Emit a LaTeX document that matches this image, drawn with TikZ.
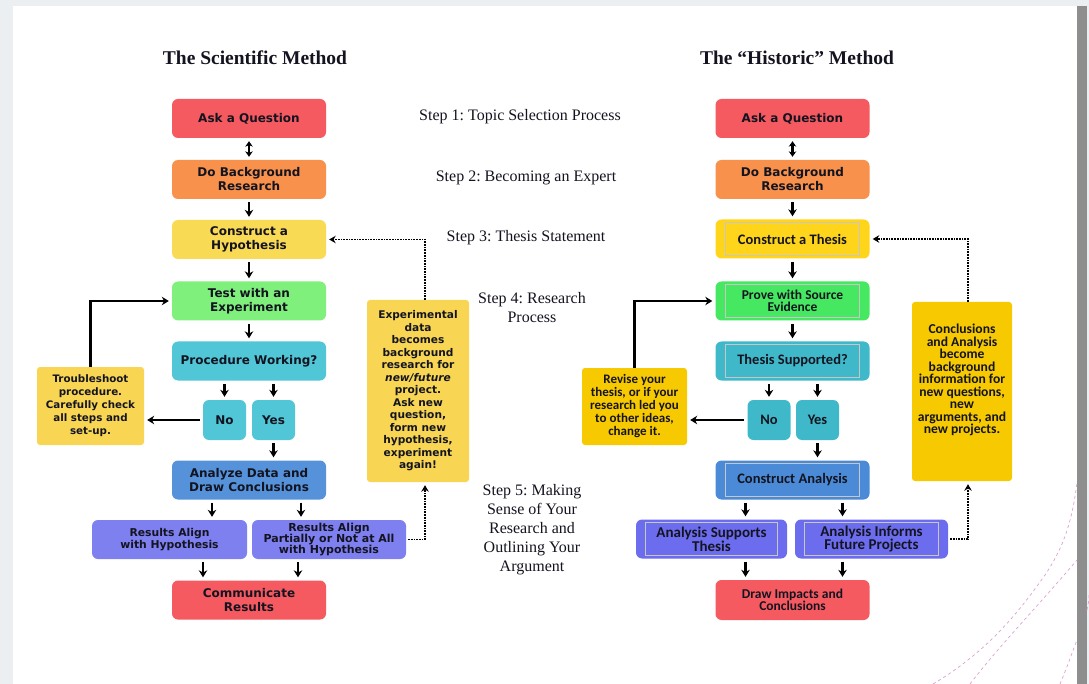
\documentclass[tikz,border=0pt]{standalone}
\usepackage{fontspec}
\setmainfont{Liberation Serif}
\newfontfamily\boxfont{DejaVu Sans}
\newfontfamily\calfont{Carlito}
\usetikzlibrary{arrows.meta,calc}
\frenchspacing
\definecolor{frame}{HTML}{ECEFF1}
\definecolor{bar}{HTML}{8E8E8E}
\definecolor{cred}{HTML}{F55A60}
\definecolor{corange}{HTML}{F7914B}
\definecolor{cyel}{HTML}{F9DA55}
\definecolor{cgreen}{HTML}{80F07D}
\definecolor{ccyan}{HTML}{50C6D6}
\definecolor{cblue}{HTML}{5592DA}
\definecolor{cpurple}{HTML}{7E80F0}
\definecolor{cnote}{HTML}{F8D653}
\definecolor{rgold}{HTML}{FFD51C}
\definecolor{rgreen}{HTML}{45E860}
\definecolor{rteal}{HTML}{3FB9C9}
\definecolor{rblue}{HTML}{4A8AD6}
\definecolor{rpurple}{HTML}{6C6CEE}
\definecolor{rnote}{HTML}{F7C900}
\definecolor{pinkd}{HTML}{E0A0D0}
\definecolor{txt}{HTML}{141420}
\tikzset{
  box/.style={rounded corners=6pt, minimum width=154pt, minimum height=39pt, align=center, inner sep=1pt,
    font=\boxfont\bfseries\fontsize{12}{14}\selectfont, text=txt},
  rbox/.style={box, font=\calfont\bfseries\fontsize{14.5}{14}\selectfont},
  ynbox/.style={box, minimum width=43pt, minimum height=40pt},
  note/.style={rounded corners=3pt, align=center, inner sep=1pt, text=txt, font=\boxfont\bfseries\fontsize{10.3}{13}\selectfont},
  rnotes/.style={rounded corners=3pt, align=center, inner sep=1pt, text=txt, font=\calfont\bfseries\fontsize{13.6}{12.5}\selectfont},
  arr/.style={line width=2.2pt, -{Stealth[length=7pt,width=8.5pt]}, shorten >=3pt, shorten <=3pt},
  darr/.style={line width=2.2pt, {Stealth[length=5.5pt,width=7.5pt]}-{Stealth[length=5.5pt,width=7.5pt]}, shorten >=3pt, shorten <=3pt},
  dots/.style={line width=1.7pt, densely dotted, -{Stealth[length=6.5pt,width=7.5pt]}, shorten >=3pt},
  steptext/.style={align=center, text=txt, font=\fontsize{16}{19}\selectfont},
  titletext/.style={text=txt, font=\bfseries\fontsize{19.5}{22}\selectfont},
  bevel/.style={draw=black!22, line width=0.8pt}
}
\begin{document}
\begin{tikzpicture}[x=1pt,y=-1pt]
\useasboundingbox (0,0) rectangle (1089,684);
% page frame
\fill[frame] (0,0) rectangle (1089,684);
\fill[white] (13,6) rectangle (1077,684);
\fill[bar] (1077,6) rectangle (1087,684);
% decorative dashed curves
\draw[pinkd, dashed, line width=0.7pt] (933,684) .. controls (990,650) and (1020,610) .. (1045,575) .. controls (1065,545) and (1072,520) .. (1077,483);
\draw[pinkd, dashed, line width=0.7pt] (970,684) .. controls (1000,645) and (1030,615) .. (1077,560);
\draw[pinkd, dashed, line width=0.7pt] (1060,684) .. controls (1068,665) and (1073,650) .. (1077,640);
\draw[pinkd, dashed, line width=0.7pt] (1087,610) .. controls (1089,600) .. (1089,595);

% titles
\node[titletext] (t1) at (255,58) {The Scientific Method};
\node[titletext] (t2) at (797,58) {The \char"201CHistoric\char"201D{} Method};

% step labels
\node[steptext] (s1) at (520,117) {Step 1: Topic Selection Process};
\node[steptext] (s2) at (526,178) {Step 2: Becoming an Expert};
\node[steptext] (s3) at (526,238) {Step 3: Thesis Statement};
\node[steptext] (s4) at (532,308) {Step 4: Research\\Process};
\node[steptext] (s5) at (532,530) {Step 5: Making\\Sense of Your\\Research and\\Outlining Your\\Argument};

% ---------- left column ----------
\node[box, fill=cred] (ask) at (249,118.5) {Ask a Question};
\node[box, fill=corange] (bg) at (249,179.5) {Do Background\\Research};
\node[box, fill=cyel] (hyp) at (249,239.5) {Construct a\\Hypothesis};
\node[box, fill=cgreen] (test) at (249,301) {Test with an\\Experiment};
\node[box, fill=ccyan] (proc) at (249,361) {Procedure Working?};
\node[ynbox, fill=ccyan] (no) at (224.5,420) {No};
\node[ynbox, fill=ccyan] (yes) at (273.5,420) {Yes};
\node[note, fill=cnote, minimum width=107pt, minimum height=78pt] (trb) at (90.5,406) {Troubleshoot\\procedure.\\Carefully check\\all steps and\\set-up.};
\node[box, fill=cblue] (an) at (249,480) {Analyze Data and\\Draw Conclusions};
\node[box, fill=cpurple, minimum width=155pt, font=\boxfont\bfseries\fontsize{10.8}{12.5}\selectfont] (ra1) at (169.5,539.5) {Results Align\\with Hypothesis};
\node[box, fill=cpurple, minimum width=154pt, font=\boxfont\bfseries\fontsize{11}{11}\selectfont] (ra2) at (329,539.5) {Results Align\\Partially or Not at All\\with Hypothesis};
\node[box, fill=cred] (comm) at (249,600) {Communicate\\Results};
\node[note, fill=cnote, minimum width=102pt, minimum height=182pt, font=\boxfont\bfseries\fontsize{10.6}{12.5}\selectfont] (exp) at (418,391) {Experimental\\data\\becomes\\background\\research for\\\textit{new/future}\\project.\\Ask new\\question,\\form new\\hypothesis,\\experiment\\again!};

\draw[darr] (ask) -- (bg);
\draw[arr] (bg) -- (hyp);
\draw[arr] (hyp) -- (test);
\draw[arr] (test) -- (proc);
\draw[arr] (proc.south -| no) -- (no);
\draw[arr] (proc.south -| yes) -- (yes);
\draw[arr] (no.west) -- (no.west -| trb.east);
\draw[arr, shorten <=0pt] (trb.north) |- (test.west);
\draw[arr] (yes) -- (yes |- an.north);
\coordinate (a1) at ([xshift=-37pt]an.south);
\coordinate (a2) at ([xshift=52pt]an.south);
\draw[arr] (a1) -- (a1 |- ra1.north);
\draw[arr] (a2) -- (a2 |- ra2.north);
\coordinate (c1) at ([xshift=-46pt]comm.north);
\coordinate (c2) at ([xshift=49pt]comm.north);
\draw[arr] (c1 |- ra1.south) -- (c1);
\draw[arr] (c2 |- ra2.south) -- (c2);
\draw[dots] ([xshift=2pt]ra2.east) -| ([xshift=7pt]exp.south);
\draw[dots] ([xshift=7pt]exp.north) |- (hyp.east);

% ---------- right column ----------
\node[box, fill=cred] (rask) at (792.5,118.5) {Ask a Question};
\node[box, fill=corange] (rbg) at (792.5,179.5) {Do Background\\Research};
\node[rbox, fill=rgold] (rth) at (792.5,239) {Construct a Thesis};
\node[rbox, fill=rgreen, font=\calfont\bfseries\fontsize{13.5}{11.5}\selectfont] (rpr) at (792.5,301) {Prove with Source\\Evidence};
\node[rbox, fill=rteal] (rsup) at (792.5,361) {Thesis Supported?};
\node[ynbox, fill=rteal, font=\calfont\bfseries\fontsize{14.5}{14}\selectfont] (rno) at (769,420) {No};
\node[ynbox, fill=rteal, font=\calfont\bfseries\fontsize{14.5}{14}\selectfont] (ryes) at (817.5,420) {Yes};
\node[rnotes, fill=rnote, minimum width=105pt, minimum height=77pt, font=\calfont\bfseries\fontsize{13}{13}\selectfont] (rrev) at (634.5,406.5) {Revise your\\thesis, or if your\\research led you\\to other ideas,\\change it.};
\node[rbox, fill=rblue] (rca) at (792.5,480) {Construct Analysis};
\node[rbox, fill=rpurple, minimum width=151pt, font=\calfont\bfseries\fontsize{15}{10.5}\selectfont] (rsupp) at (711.5,539) {Analysis Supports\\Thesis};
\node[rbox, fill=rpurple, minimum width=153pt, font=\calfont\bfseries\fontsize{15}{11}\selectfont] (rinf) at (871.5,539) {Analysis Informs\\Future Projects};
\node[rbox, fill=cred, minimum height=40pt, font=\calfont\bfseries\fontsize{13.5}{12.5}\selectfont] (rdraw) at (792.5,600) {Draw Impacts and\\Conclusions};
\node[rnotes, fill=rnote, minimum width=100pt, minimum height=179pt] (rcon) at (962,391.5) {};
\node[rnotes, anchor=north] (rcontext) at ([yshift=-21pt]rcon.north) {Conclusions\\and Analysis\\become\\background\\information for\\new questions,\\new\\arguments, and\\new projects.};

% bevel insets on right-column boxes
\foreach \n in {rth,rpr,rsup,rca,rsupp,rinf}{
  \draw[bevel] ([shift={(10,3)}]\n.north west) rectangle ([shift={(-10,-3)}]\n.south east);
}

\draw[darr] (rask) -- (rbg);
\draw[arr] (rbg) -- (rth);
\draw[arr] (rth) -- (rpr);
\draw[arr] (rpr) -- (rsup);
\draw[arr] (rsup.south -| rno) -- (rno);
\draw[arr] (rsup.south -| ryes) -- (ryes);
\draw[arr] (rno.west) -- (rno.west -| rrev.east);
\draw[arr, shorten <=0pt] (rrev.north) |- (rpr.west);
\draw[arr] (ryes) -- (ryes |- rca.north);
\coordinate (r1) at ([xshift=-47pt]rca.south);
\coordinate (r2) at ([xshift=50pt]rca.south);
\draw[arr] (r1) -- (r1 |- rsupp.north);
\draw[arr] (r2) -- (r2 |- rinf.north);
\coordinate (d1) at ([xshift=-47pt]rdraw.north);
\coordinate (d2) at ([xshift=50pt]rdraw.north);
\draw[arr] (d1 |- rsupp.south) -- (d1);
\draw[arr] (d2 |- rinf.south) -- (d2);
\draw[dots] ([xshift=2pt]rinf.east) -| ([xshift=6pt]rcon.south);
\draw[dots] ([xshift=6pt]rcon.north) |- (rth.east);
\end{tikzpicture}
\end{document}
